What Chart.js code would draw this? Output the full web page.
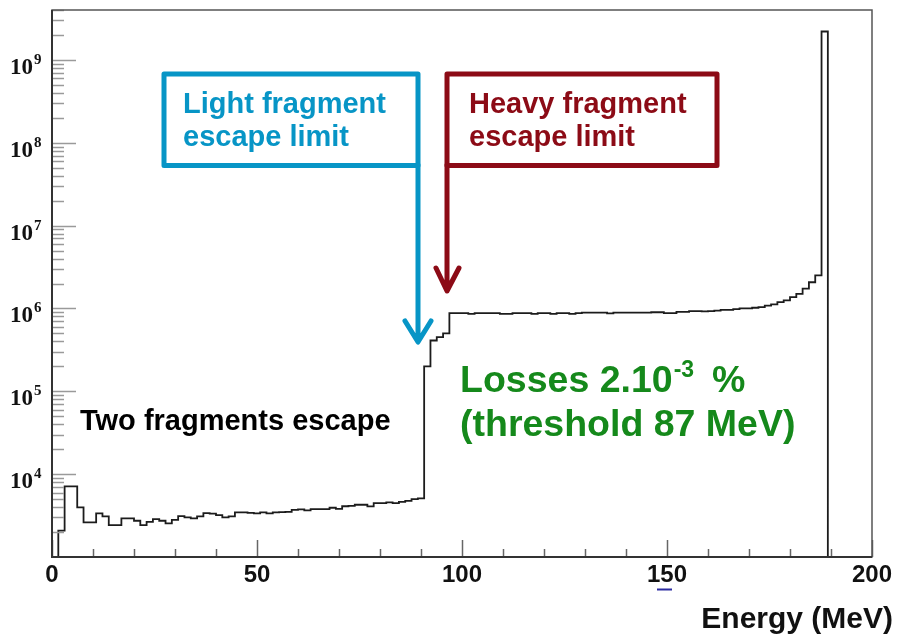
<!DOCTYPE html>
<html lang="en">
<head>
    <meta charset="UTF-8">
    <title>Fragment energy spectrum</title>
    <script src="https://cdn.jsdelivr.net/npm/chart.js"></script>
    <style>
        body { margin: 0; background: #fff; }
        canvas { display: block; }
    </style>
</head>
<body>
    <canvas id="spectrum" width="897" height="636"></canvas>

    <script>
        // histogram range (MeV) and counts per bin
        const xMin = 0;
        const xMax = 200;
        const counts = [
            0, 2080, 7100, 7100, 3980, 2620, 2620, 3360, 3090, 2430,
            2430, 2930, 2930, 2740, 2430, 2660, 2870, 2740, 2550, 2810,
            3120, 3010, 2930, 3090, 3390, 3330, 3210, 3010, 3090, 3460,
            3460, 3400, 3360, 3460, 3360, 3460, 3480, 3500, 3700, 3750,
            3650, 3790, 3790, 3790, 3930, 3800, 4100, 4150, 4270, 4270,
            4080, 4480, 4480, 4560, 4480, 4640, 4770, 5000, 5090, 2.0e5,
            4.1e5, 4.5e5, 5.0e5, 8.8e5, 8.8e5, 8.8e5, 8.6e5, 8.8e5, 8.8e5, 8.8e5,
            8.8e5, 8.6e5, 8.6e5, 8.8e5, 8.8e5, 8.8e5, 8.6e5, 8.8e5, 8.8e5, 8.6e5,
            8.8e5, 8.8e5, 8.6e5, 8.8e5, 8.9e5, 8.9e5, 8.9e5, 8.9e5, 8.7e5, 8.9e5,
            8.9e5, 8.9e5, 8.9e5, 8.9e5, 8.9e5, 9.0e5, 9.0e5, 8.8e5, 8.8e5, 9.1e5,
            9.1e5, 9.3e5, 9.3e5, 9.2e5, 9.3e5, 9.4e5, 9.6e5, 9.6e5, 9.8e5, 1.0e6,
            1.0e6, 1.02e6, 1.04e6, 1.08e6, 1.12e6, 1.19e6, 1.25e6, 1.37e6, 1.5e6, 1.73e6,
            2.07e6, 2.5e6, 2.2e9, 0, 0, 0, 0, 0, 0, 0
        ];
        const xTickLabels = [0, 50, 100, 150, 200];
        const yTickExponents = [4, 5, 6, 7, 8, 9];
        const yMin = 1000;
        const yMax = 4e9;

        const binWidth = (xMax - xMin) / counts.length;
        // log axis can't show 0, push empty bins below the frame
        const points = counts.map((c, i) => ({ x: xMin + i * binWidth, y: c > 0 ? c : 1 }));
        points.push({ x: xMax, y: 1 });

        const sans = '"Liberation Sans", Arial, sans-serif';
        const serif = '"Liberation Serif", "Times New Roman", serif';
        const blue = '#0795c6';
        const red = '#8c0b16';
        const green = '#15891b';

        const decor = {
            id: 'decor',
            afterDraw(chart) {
                const { ctx, chartArea: a } = chart;
                const xs = chart.scales.x;
                const ys = chart.scales.y;
                ctx.save();

                // y ticks (inside, log minors)
                ctx.strokeStyle = '#9a9a9a';
                ctx.lineWidth = 1.5;
                for (let e = 3; e <= 9; e++) {
                    for (let m = 1; m <= 9; m++) {
                        const v = m * Math.pow(10, e);
                        if (v <= yMin || v > yMax) continue;
                        const y = Math.round(ys.getPixelForValue(v)) + 0.5;
                        ctx.beginPath();
                        ctx.moveTo(a.left, y);
                        ctx.lineTo(a.left + (m === 1 ? 24 : 12), y);
                        ctx.stroke();
                    }
                }

                // x ticks (inside)
                ctx.strokeStyle = '#666';
                for (let v = xMin; v <= xMax; v += 10) {
                    const x = Math.round(xs.getPixelForValue(v)) + 0.5;
                    ctx.beginPath();
                    ctx.moveTo(x, a.bottom);
                    ctx.lineTo(x, a.bottom - (v % 50 === 0 ? 17 : 8));
                    ctx.stroke();
                }

                // frame
                ctx.strokeStyle = '#555';
                ctx.lineWidth = 1.5;
                ctx.strokeRect(a.left, a.top, a.right - a.left, a.bottom - a.top);
                ctx.strokeStyle = '#333';
                ctx.lineWidth = 2;
                ctx.beginPath();
                ctx.moveTo(a.left, a.top);
                ctx.lineTo(a.left, a.bottom);
                ctx.lineTo(a.right, a.bottom);
                ctx.stroke();

                // x labels
                ctx.fillStyle = '#111';
                ctx.font = 'bold 24px ' + sans;
                ctx.textAlign = 'center';
                ctx.textBaseline = 'alphabetic';
                xTickLabels.forEach(v => ctx.fillText(String(v), xs.getPixelForValue(v), 582));

                // stray mark under 150
                ctx.strokeStyle = '#2b2ba0';
                ctx.lineWidth = 2;
                ctx.beginPath();
                ctx.moveTo(657, 589.5);
                ctx.lineTo(672, 589.5);
                ctx.stroke();

                // y labels 10^n
                ctx.textAlign = 'left';
                yTickExponents.forEach(n => {
                    const y = ys.getPixelForValue(Math.pow(10, n));
                    ctx.font = 'bold 23px ' + serif;
                    ctx.fillText('10', 10, y + 14);
                    const w = ctx.measureText('10').width;
                    ctx.font = 'bold 15px ' + serif;
                    ctx.fillText(String(n), 10 + w + 1, y + 4);
                });

                // axis title
                ctx.font = 'bold 30px ' + sans;
                ctx.textAlign = 'right';
                ctx.fillText('Energy (MeV)', 893, 628);

                // annotation boxes with arrows
                ctx.lineWidth = 5;
                ctx.lineJoin = 'round';
                ctx.lineCap = 'round';

                ctx.strokeStyle = blue;
                ctx.strokeRect(164, 74, 254, 91.5);
                ctx.beginPath();
                ctx.moveTo(418, 165);
                ctx.lineTo(418, 341);
                ctx.moveTo(405, 321);
                ctx.lineTo(418, 342);
                ctx.lineTo(431, 321);
                ctx.stroke();

                ctx.strokeStyle = red;
                ctx.strokeRect(447, 74, 270, 91.5);
                ctx.beginPath();
                ctx.moveTo(447, 165);
                ctx.lineTo(447, 290);
                ctx.moveTo(436, 268);
                ctx.lineTo(447, 291);
                ctx.lineTo(459, 268);
                ctx.stroke();

                ctx.textAlign = 'left';
                ctx.font = 'bold 29px ' + sans;
                ctx.fillStyle = blue;
                ctx.fillText('Light fragment', 183, 113);
                ctx.fillText('escape limit', 183, 146);
                ctx.fillStyle = red;
                ctx.fillText('Heavy fragment', 469, 113);
                ctx.fillText('escape limit', 469, 146);

                ctx.fillStyle = '#000';
                ctx.fillText('Two fragments escape', 80, 430);

                ctx.fillStyle = green;
                ctx.font = 'bold 37.5px ' + sans;
                const lead = 'Losses 2.10';
                ctx.fillText(lead, 460, 392);
                const lw = ctx.measureText(lead).width;
                ctx.font = 'bold 23px ' + sans;
                ctx.fillText('-3', 460 + lw + 1, 377);
                ctx.font = 'bold 37.5px ' + sans;
                ctx.fillText('%', 712, 392);
                ctx.fillText('(threshold 87 MeV)', 460, 436);

                ctx.restore();
            }
        };

        new Chart(document.getElementById('spectrum').getContext('2d'), {
            type: 'line',
            data: {
                datasets: [{
                    data: points,
                    stepped: 'before',
                    borderColor: '#1c1c1c',
                    borderWidth: 1.8,
                    pointRadius: 0,
                    fill: false,
                    tension: 0
                }]
            },
            options: {
                responsive: false,
                animation: false,
                layout: { padding: { left: 52, right: 25, top: 10, bottom: 79 } },
                plugins: {
                    legend: { display: false },
                    tooltip: { enabled: false }
                },
                scales: {
                    x: { type: 'linear', min: xMin, max: xMax, display: false },
                    y: { type: 'logarithmic', min: yMin, max: yMax, display: false }
                }
            },
            plugins: [decor]
        });
    </script>
</body>
</html>
